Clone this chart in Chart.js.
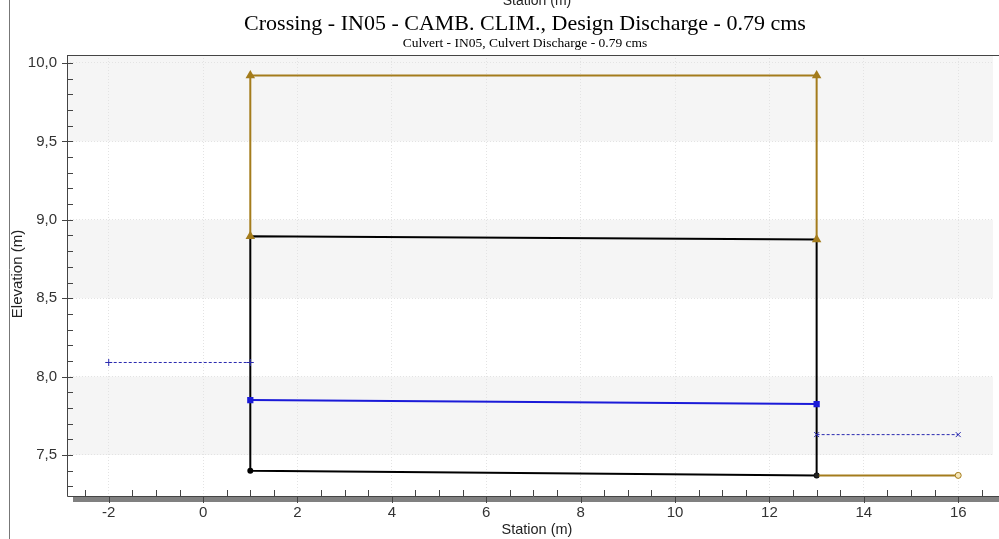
<!DOCTYPE html>
<html>
<head>
<meta charset="utf-8">
<title>Crossing - IN05 - CAMB. CLIM.</title>
<script src="https://cdn.jsdelivr.net/npm/chart.js@4.4.1/dist/chart.umd.min.js"></script>
<style>
  html, body { margin: 0; padding: 0; background: #ffffff; }
  #wrap { position: relative; width: 999px; height: 539px; }
</style>
</head>
<body>
<div id="wrap"><canvas id="chart" width="999" height="539"></canvas></div>
<script>
// Roadway embankment (above culvert)
const roadStation = [1, 1, 13, 13];
const roadElev = [8.895, 9.92, 9.92, 8.875];

// Culvert barrel outline (invert, crown)
const culvertStation = [1, 1, 13, 13, 1];
const culvertElev = [7.40, 8.895, 8.875, 7.37, 7.40];

// Water surface inside the barrel
const wsStation = [1, 13];
const wsElev = [7.85, 7.825];

// Headwater and tailwater levels
const headwaterStation = [-2, 1];
const headwaterElev = [8.09, 8.09];
const tailwaterStation = [13, 16];
const tailwaterElev = [7.63, 7.63];

// Outlet channel bed
const channelStation = [13, 16];
const channelElev = [7.37, 7.37];

// Axis ticks
const stationTicks = [-2, 0, 2, 4, 6, 8, 10, 12, 14, 16];
const elevTicks = [7.5, 8.0, 8.5, 9.0, 9.5, 10.0];

const pts = (xs, ys) => xs.map((x, i) => ({ x: x, y: ys[i] }));

const GOLD = '#a47c1c';
const BLUE = '#1a1ad8';
const DASHBLUE = '#2a2ab0';

const frame = {
  id: 'frame',
  beforeDraw(chart) {
    const { ctx, chartArea: a, scales: { y } } = chart;
    ctx.save();
    // alternating horizontal bands
    ctx.fillStyle = '#f5f5f5';
    const bands = [[9.5, y.max], [8.5, 9.0], [7.5, 8.0]];
    bands.forEach(([lo, hi]) => {
      const t = y.getPixelForValue(hi), b = y.getPixelForValue(lo);
      ctx.fillRect(a.left, t, a.right - a.left, b - t);
    });
    ctx.restore();
  },
  afterDraw(chart) {
    const { ctx, chartArea: a, scales: { x, y } } = chart;
    ctx.save();
    // window edge on the left
    ctx.strokeStyle = '#777';
    ctx.lineWidth = 1;
    ctx.beginPath(); ctx.moveTo(9.5, 0); ctx.lineTo(9.5, 539); ctx.stroke();
    // shaded base under the station axis
    ctx.fillStyle = '#808080';
    ctx.fillRect(a.left + 6, a.bottom + 1, chart.width - a.left - 6, 5);
    // frame lines
    ctx.strokeStyle = '#444';
    ctx.beginPath();
    ctx.moveTo(a.left + 0.5, a.top); ctx.lineTo(a.left + 0.5, a.bottom + 0.5);
    ctx.lineTo(chart.width, a.bottom + 0.5);
    ctx.moveTo(a.left, a.top + 0.5); ctx.lineTo(chart.width, a.top + 0.5);
    ctx.stroke();
    // elevation tick marks
    ctx.beginPath();
    for (let k = 73; k <= 100; k++) {
      const py = Math.round(y.getPixelForValue(k / 10)) + 0.5;
      const major = k % 5 === 0;
      ctx.moveTo(major ? a.left - 5 : a.left, py);
      ctx.lineTo(a.left + 6, py);
    }
    // station tick marks
    for (let k = -5; k <= 33; k++) {
      const px = Math.round(x.getPixelForValue(k / 2)) + 0.5;
      if (k % 4 === 0) {
        ctx.moveTo(px, a.bottom); ctx.lineTo(px, a.bottom + 7);
      } else {
        ctx.moveTo(px, a.bottom - 6); ctx.lineTo(px, a.bottom);
      }
    }
    ctx.stroke();
    // titles
    ctx.textAlign = 'center';
    ctx.textBaseline = 'alphabetic';
    ctx.font = '14px "Liberation Sans", Arial, sans-serif';
    ctx.fillStyle = '#222';
    ctx.fillText('Station (m)', 537, 5);
    ctx.fillStyle = '#000';
    ctx.font = '22px "Liberation Serif", "Times New Roman", serif';
    ctx.fillText('Crossing - IN05 - CAMB. CLIM., Design Discharge - 0.79 cms', 525, 30);
    ctx.font = '13.5px "Liberation Serif", "Times New Roman", serif';
    ctx.fillText('Culvert - IN05, Culvert Discharge - 0.79 cms', 525, 47);
    // axis titles
    ctx.fillStyle = '#222';
    ctx.font = '14.5px "Liberation Sans", Arial, sans-serif';
    ctx.fillText('Station (m)', 537, 534);
    ctx.font = '15px "Liberation Sans", Arial, sans-serif';
    ctx.translate(22, 274);
    ctx.rotate(-Math.PI / 2);
    ctx.fillText('Elevation (m)', 0, 0);
    ctx.restore();
  }
};

new Chart(document.getElementById('chart'), {
  type: 'scatter',
  data: {
    datasets: [
      {
        data: pts(wsStation, wsElev), showLine: true,
        borderColor: BLUE, borderWidth: 2,
        pointStyle: 'rect', pointRadius: 3, pointBackgroundColor: BLUE, pointBorderColor: BLUE
      },
      {
        data: pts(headwaterStation, headwaterElev), showLine: true,
        borderColor: DASHBLUE, borderWidth: 1, borderDash: [3, 2],
        pointStyle: 'cross', pointRadius: 3.5, pointBorderWidth: 1, pointBorderColor: DASHBLUE
      },
      {
        data: pts(tailwaterStation, tailwaterElev), showLine: true,
        borderColor: DASHBLUE, borderWidth: 1, borderDash: [3, 2],
        pointStyle: 'crossRot', pointRadius: 3.5, pointBorderWidth: 1, pointBorderColor: DASHBLUE
      },
      {
        data: pts(roadStation, roadElev), showLine: true,
        borderColor: GOLD, borderWidth: 2,
        pointStyle: 'triangle', pointRadius: 3.5, pointBackgroundColor: GOLD, pointBorderColor: GOLD
      },
      {
        data: pts(channelStation, channelElev), showLine: true,
        borderColor: GOLD, borderWidth: 2,
        pointStyle: 'circle', pointRadius: [2, 3], pointBorderWidth: 1,
        pointBackgroundColor: ['#222', '#f5e6b8'], pointBorderColor: ['#222', GOLD]
      },
      {
        data: pts(culvertStation, culvertElev), showLine: true,
        borderColor: '#000', borderWidth: 2,
        pointStyle: 'circle', pointRadius: [2, 0, 0, 2, 0], pointBackgroundColor: '#000', pointBorderColor: '#000'
      }
    ]
  },
  options: {
    responsive: false,
    animation: false,
    events: [],
    layout: { padding: { top: 55, left: 0, right: 0, bottom: 0 } },
    plugins: { legend: { display: false }, tooltip: { enabled: false }, title: { display: false } },
    scales: {
      x: {
        type: 'linear', min: -2.884, max: 16.737,
        afterBuildTicks: s => { s.ticks = stationTicks.map(v => ({ value: v })); },
        afterFit: s => { s.height = 43; },
        border: { display: false, dash: [1, 2] },
        grid: { drawTicks: false, color: '#e3e3e3', lineWidth: 1 },
        ticks: {
          padding: 8, color: '#333', maxRotation: 0, autoSkip: false,
          font: { family: '"Liberation Sans", Arial, sans-serif', size: 15 },
          callback: v => String(v)
        }
      },
      y: {
        type: 'linear', min: 7.2385, max: 10.051,
        afterBuildTicks: s => { s.ticks = elevTicks.map(v => ({ value: v })); },
        afterFit: s => { s.width = 67; },
        border: { display: false, dash: [1, 2] },
        grid: { drawTicks: false, color: '#e3e3e3', lineWidth: 1 },
        ticks: {
          padding: 10, color: '#333', autoSkip: false,
          font: { family: '"Liberation Sans", Arial, sans-serif', size: 15 },
          callback: v => Number(v).toFixed(1).replace('.', ',')
        }
      }
    }
  },
  plugins: [frame]
});
</script>
</body>
</html>
